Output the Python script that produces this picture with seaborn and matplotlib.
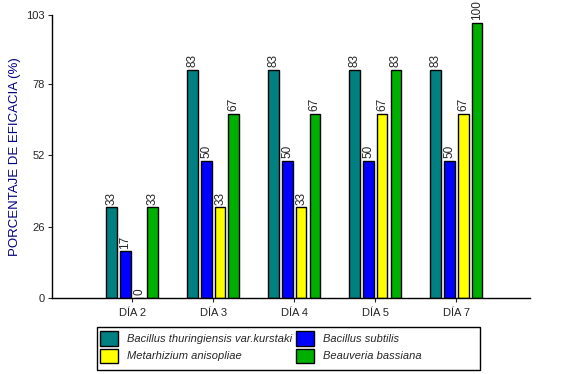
import pandas as pd
import matplotlib
matplotlib.use("Agg")
import matplotlib.pyplot as plt
import matplotlib.patches as mpatches
import seaborn as sns

# Datos
dias = ["DÍA 2", "DÍA 3", "DÍA 4", "DÍA 5", "DÍA 7"]
tratamientos = ["Bacillus thuringiensis var.kurstaki", "Bacillus subtilis",
                "Metarhizium anisopliae", "Beauveria bassiana"]
btk = [33, 83, 83, 83, 83]
subtilis = [17, 50, 50, 50, 50]
metarhizium = [0, 33, 33, 67, 67]
beauveria = [33, 67, 67, 83, 100]
colores = ["#008080", "#0000FF", "#FFFF00", "#00B000"]

df = pd.DataFrame({
    "dia": dias * 4,
    "tratamiento": sum([[t] * len(dias) for t in tratamientos], []),
    "eficacia": btk + subtilis + metarhizium + beauveria,
})

sns.set_style("white")
plt.rcParams["font.family"] = ["Liberation Sans", "DejaVu Sans"]

fig = plt.figure(figsize=(5.62, 3.74), dpi=100)
ax = fig.add_axes([0.0925, 0.203, 0.8505, 0.757])

sns.barplot(data=df, x="dia", y="eficacia", hue="tratamiento", order=dias,
            hue_order=tratamientos, palette=colores, width=0.68, gap=0.22,
            edgecolor="black", linewidth=1, saturation=1, ax=ax, legend=True)

# Etiquetas de valor sobre cada barra
for cont in ax.containers:
    labels = ax.bar_label(cont, fmt="%d", rotation=90, padding=2, fontsize=8.5)
    for t in labels:
        t.set_bbox(dict(facecolor="white", edgecolor="none", pad=0.3))

ax.set_ylim(0, 103)
ax.set_yticks([0, 26, 52, 78, 103])
ax.set_xlim(-0.99, 4.91)
ax.set_xlabel("")
ax.set_ylabel("PORCENTAJE DE EFICACIA (%)", color="#000080", fontsize=9.5)
ax.tick_params(axis="both", labelsize=8, length=3, direction="out",
               bottom=True, left=True, pad=2)
ax.tick_params(axis="x", pad=4)
for s in ["top", "right"]:
    ax.spines[s].set_visible(False)
for s in ["left", "bottom"]:
    ax.spines[s].set_color("black")
    ax.spines[s].set_linewidth(1)

# Leyenda en dos columnas, ordenada por filas como en el original
handles, labs = ax.get_legend_handles_labels()
orden = [0, 2, 1, 3]
ax.legend([handles[i] for i in orden], [labs[i] for i in orden], ncol=2,
          loc="upper left", bbox_to_anchor=(98 / 562, 1 - 329 / 374),
          bbox_transform=fig.transFigure, frameon=False,
          prop={"style": "italic", "size": 8}, handlelength=1.6,
          handleheight=1.6, handletextpad=0.8, columnspacing=0.4,
          labelspacing=0.28, borderpad=0.2, borderaxespad=0)
fig.patches.append(mpatches.Rectangle(
    (97 / 562, 1 - 370 / 374), 383 / 562, 43 / 374, transform=fig.transFigure,
    fill=False, edgecolor="black", linewidth=1))

fig.savefig("out.png", dpi=100)
